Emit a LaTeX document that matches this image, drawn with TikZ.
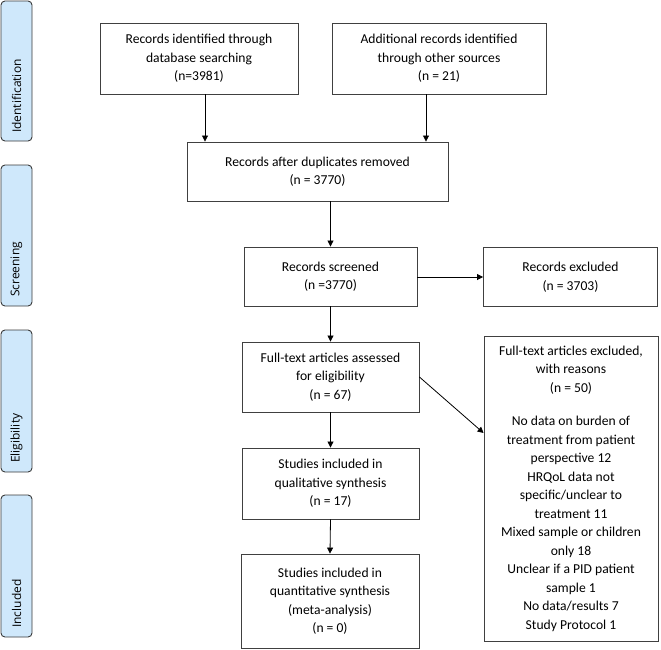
\documentclass[tikz,border=0pt]{standalone}
\usepackage{fontspec}
\setmainfont{Carlito}
\newfontfamily\tabfont{Open Sans}
\usetikzlibrary{arrows.meta}
\definecolor{tabblue}{HTML}{CFE8FB}
\definecolor{tabedge}{HTML}{3A3A3A}
\definecolor{boxedge}{HTML}{404040}
\tikzset{
  flowbox/.style={draw=boxedge, line width=0.9pt, fill=white, align=center, inner sep=2pt,
    font=\fontsize{13.6}{18.5}\selectfont},
  phase/.style={draw=tabedge, line width=0.9pt, fill=tabblue, rounded corners=4pt},
  phaselabel/.style={rotate=90, anchor=west, inner sep=0pt, font=\tabfont\fontsize{12}{14}\selectfont},
  flowarrow/.style={-{Triangle[length=6pt,width=6pt]}, line width=0.8pt, black}
}
\begin{document}
\begin{tikzpicture}[x=1pt,y=-1pt]
\useasboundingbox (0,0) rectangle (661,649);
% phase tabs
\draw[phase] (1,1) rectangle (32,141);
\node[phaselabel] (lid) at (16.5,133) {Identification};
\draw[phase] (1,165) rectangle (32,306);
\node[phaselabel] (lsc) at (16.5,297) {Screening};
\draw[phase] (1,330) rectangle (32,472);
\node[phaselabel] (lel) at (16.5,463) {Eligibility};
\draw[phase] (1,495) rectangle (32,637);
\node[phaselabel] (lin) at (16.5,628) {Included};
% boxes
\node[flowbox, minimum width=198pt, minimum height=71pt] (db) at (199,58.5)
  {Records identified through\\database searching\\(n=3981)};
\node[flowbox, minimum width=214pt, minimum height=71pt] (other) at (439,58.5)
  {Additional records identified\\through other sources\\(n = 21)};
\node[flowbox, minimum width=261pt, minimum height=59pt] (dup) at (317.5,171.5)
  {Records after duplicates removed\\(n = 3770)};
\node[flowbox, minimum width=173pt, minimum height=59pt] (scr) at (330.5,276.5)
  {Records screened\\(n =3770)};
\node[flowbox, minimum width=174pt, minimum height=59pt] (exc) at (570.5,277)
  {Records excluded\\(n = 3703)};
\node[flowbox, minimum width=177pt, minimum height=70pt] (full) at (330.5,377)
  {Full-text articles assessed\\for eligibility\\(n = 67)};
\node[flowbox, minimum width=177pt, minimum height=71pt] (qual) at (330.5,483.5)
  {Studies included in\\qualitative synthesis\\(n = 17)};
\node[flowbox, minimum width=178pt, minimum height=94pt] (quant) at (330,601)
  {Studies included in\\quantitative synthesis\\(meta-analysis)\\(n = 0)};
\node[flowbox, minimum width=174pt, minimum height=305pt] (fexc) at (571,488.5)
  {Full-text articles excluded,\\with reasons\\(n = 50)\\[15pt]
   No data on burden of\\treatment from patient\\perspective 12\\HRQoL data not\\specific/unclear to\\treatment 11\\Mixed sample or children\\only 18\\Unclear if a PID patient\\sample 1\\No data/results 7\\Study Protocol 1};
% connectors
\draw[flowarrow] (db.south -| 205,0) -- (dup.north -| 205,0);
\draw[flowarrow] (other.south -| 426,0) -- (dup.north -| 426,0);
\draw[flowarrow] (dup.south -| scr.north) -- (scr.north);
\draw[flowarrow] (scr.east |- exc.west) -- (exc.west);
\draw[flowarrow] (scr.south) -- (full.north);
\draw[flowarrow] (full.south) -- (qual.north);
\draw[flowarrow] (qual.south) -- (quant.north);
\draw[flowarrow] (full.east) -- (fexc.west |- 0,433);
\end{tikzpicture}
\end{document}
